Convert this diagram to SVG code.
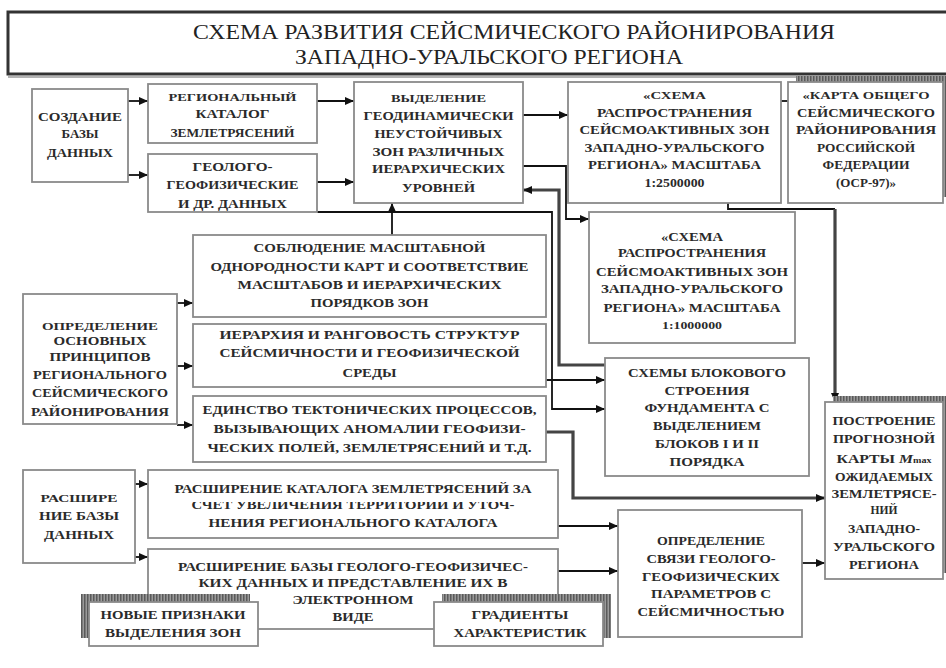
<svg xmlns="http://www.w3.org/2000/svg" width="946" height="668" viewBox="0 0 946 668" font-family="Liberation Serif, DejaVu Serif, serif">
<style>
.bg{fill:#fff}
.box{fill:#fff;stroke:#8a8a8a;stroke-width:1.8}
.sh{fill:url(#hatch);stroke:none}
.t{font-weight:bold;font-size:12.5px;fill:#2a2a2a;text-anchor:middle}
.s{font-size:10px}
.ttl{font-size:21px;fill:#222;text-anchor:middle}
.c{fill:none;stroke:#111;stroke-width:1.8}
.k{fill:none;stroke:#444;stroke-width:3.2}
</style>
<defs>
<pattern id="hatch" width="3" height="3" patternUnits="userSpaceOnUse">
<rect width="3" height="3" fill="#9a9a9a"/>
<rect width="1.5" height="3" fill="#5a5a5a"/>
</pattern>
<marker id="ah" markerUnits="userSpaceOnUse" markerWidth="9" markerHeight="8" refX="9" refY="4" orient="auto">
<path d="M0,0 L9,4 L0,8 z" fill="#111"/>
</marker>
<clipPath id="clipL2"><rect x="148" y="502" width="410" height="12"/></clipPath>
</defs>
<rect class="bg" x="0" y="0" width="946" height="668"/>

<g id="title">
<rect x="8" y="12" width="945" height="62" fill="#fff" stroke="#333" stroke-width="3"/>
<line x1="8" y1="77" x2="946" y2="77" stroke="#9a9a9a" stroke-width="1.5"/>
<text class="ttl" x="514" y="39" textLength="642" lengthAdjust="spacingAndGlyphs" font-family="Liberation Serif, serif">СХЕМА РАЗВИТИЯ СЕЙСМИЧЕСКОГО РАЙОНИРОВАНИЯ</text>
<text class="ttl" x="489" y="64" textLength="388" lengthAdjust="spacingAndGlyphs" font-family="Liberation Serif, serif">ЗАПАДНО-УРАЛЬСКОГО РЕГИОНА</text>
</g>

<g id="connectors">
<path class="c" d="M128,101 H148" marker-end="url(#ah)"/>
<path class="c" d="M128,175 H148" marker-end="url(#ah)"/>
<path class="c" d="M317,101 H354" marker-end="url(#ah)"/>
<path class="c" d="M317,182 H354" marker-end="url(#ah)"/>
<path class="c" d="M317,212 H552 V409 H605" marker-end="url(#ah)"/>
<path class="k" d="M605,365 H559 V190 H523" marker-end="url(#ah)"/>
<path class="c" d="M523,115 H568" marker-end="url(#ah)"/>
<path class="c" d="M523,166 H566 V219 H589" marker-end="url(#ah)"/>
<path class="c" d="M781,101 H800" marker-end="url(#ah)"/>
<path class="c" d="M728,203 V209 H835"/>
<path class="k" d="M835,209 V402" marker-end="url(#ah)"/>
<path class="c" d="M392,235 V203" marker-end="url(#ah)"/>
<path class="c" d="M177,303 H193" marker-end="url(#ah)"/>
<path class="c" d="M177,366 H193" marker-end="url(#ah)"/>
<path class="c" d="M177,425 H193" marker-end="url(#ah)"/>
<path class="c" d="M546,380 H605" marker-end="url(#ah)"/>
<path class="k" d="M546,432 H573 V498 H825" marker-end="url(#ah)"/>
<path class="c" d="M135,484 H148" marker-end="url(#ah)"/>
<path class="c" d="M135,557 H148" marker-end="url(#ah)"/>
<path class="c" d="M558,526 H618" marker-end="url(#ah)"/>
<path class="c" d="M558,571 H618" marker-end="url(#ah)"/>
<path class="c" d="M802,563 H825" marker-end="url(#ah)"/>
</g>

<g id="n1">
<rect class="box" x="32" y="89" width="96" height="93"/>
<text class="t" x="80" y="120.5" textLength="84" lengthAdjust="spacingAndGlyphs">СОЗДАНИЕ</text>
<text class="t" x="80" y="137.5" textLength="37" lengthAdjust="spacingAndGlyphs">БАЗЫ</text>
<text class="t" x="80" y="156.5" textLength="66" lengthAdjust="spacingAndGlyphs">ДАННЫХ</text>
</g>

<g id="n2">
<rect class="box" x="148" y="84" width="169" height="59"/>
<text class="t s" x="232.5" y="100.5" textLength="128" lengthAdjust="spacingAndGlyphs">РЕГИОНАЛЬНЫЙ</text>
<text class="t" x="232.5" y="117.5" textLength="74" lengthAdjust="spacingAndGlyphs">КАТАЛОГ</text>
<text class="t" x="232.5" y="136.5" textLength="124" lengthAdjust="spacingAndGlyphs">ЗЕМЛЕТРЯСЕНИЙ</text>
</g>

<g id="n3">
<rect class="box" x="148" y="154" width="169" height="58"/>
<text class="t" x="232.5" y="170.5" textLength="80" lengthAdjust="spacingAndGlyphs">ГЕОЛОГО-</text>
<text class="t" x="232.5" y="188.5" textLength="132" lengthAdjust="spacingAndGlyphs">ГЕОФИЗИЧЕСКИЕ</text>
<text class="t" x="232.5" y="207.5" textLength="109" lengthAdjust="spacingAndGlyphs">И ДР. ДАННЫХ</text>
</g>

<g id="n4">
<rect class="box" x="354" y="82" width="169" height="121"/>
<text class="t s" x="438.5" y="101.5" textLength="95" lengthAdjust="spacingAndGlyphs">ВЫДЕЛЕНИЕ</text>
<text class="t" x="438.5" y="119.5" textLength="150" lengthAdjust="spacingAndGlyphs">ГЕОДИНАМИЧЕСКИ</text>
<text class="t" x="438.5" y="137.5" textLength="128" lengthAdjust="spacingAndGlyphs">НЕУСТОЙЧИВЫХ</text>
<text class="t" x="438.5" y="155.5" textLength="132" lengthAdjust="spacingAndGlyphs">ЗОН РАЗЛИЧНЫХ</text>
<text class="t" x="438.5" y="172.5" textLength="133" lengthAdjust="spacingAndGlyphs">ИЕРАРХИЧЕСКИХ</text>
<text class="t" x="438.5" y="191.5" textLength="73" lengthAdjust="spacingAndGlyphs">УРОВНЕЙ</text>
</g>

<g id="n5">
<rect class="box" x="568" y="82" width="213" height="121"/>
<text class="t s" x="674.5" y="98.5" textLength="63" lengthAdjust="spacingAndGlyphs">«СХЕМА</text>
<text class="t" x="674.5" y="116.5" textLength="155" lengthAdjust="spacingAndGlyphs">РАСПРОСТРАНЕНИЯ</text>
<text class="t" x="674.5" y="133.5" textLength="190" lengthAdjust="spacingAndGlyphs">СЕЙСМОАКТИВНЫХ ЗОН</text>
<text class="t" x="674.5" y="151.5" textLength="180" lengthAdjust="spacingAndGlyphs">ЗАПАДНО-УРАЛЬСКОГО</text>
<text class="t" x="674.5" y="168.5" textLength="173" lengthAdjust="spacingAndGlyphs">РЕГИОНА» МАСШТАБА</text>
<text class="t" x="674.5" y="186.5" textLength="60" lengthAdjust="spacingAndGlyphs">1:2500000</text>
</g>

<g id="n6">
<rect class="sh" x="796" y="76" width="155" height="121"/>
<rect class="box" x="788" y="82" width="155" height="121"/>
<text class="t s" x="866" y="98.5" textLength="127" lengthAdjust="spacingAndGlyphs">«КАРТА ОБЩЕГО</text>
<text class="t" x="866" y="116.5" textLength="138" lengthAdjust="spacingAndGlyphs">СЕЙСМИЧЕСКОГО</text>
<text class="t" x="866" y="133.5" textLength="140" lengthAdjust="spacingAndGlyphs">РАЙОНИРОВАНИЯ</text>
<text class="t" x="866" y="151.5" textLength="98" lengthAdjust="spacingAndGlyphs">РОССИЙСКОЙ</text>
<text class="t" x="866" y="168.5" textLength="87" lengthAdjust="spacingAndGlyphs">ФЕДЕРАЦИИ</text>
<text class="t" x="866" y="186.5" textLength="60" lengthAdjust="spacingAndGlyphs">(ОСР-97)»</text>
</g>

<g id="n7">
<rect class="box" x="589" y="212" width="206" height="131"/>
<text class="t" x="692" y="241.3" textLength="62" lengthAdjust="spacingAndGlyphs">«СХЕМА</text>
<text class="t" x="692" y="257.3" textLength="148" lengthAdjust="spacingAndGlyphs">РАСПРОСТРАНЕНИЯ</text>
<text class="t" x="692" y="276.3" textLength="192" lengthAdjust="spacingAndGlyphs">СЕЙСМОАКТИВНЫХ ЗОН</text>
<text class="t" x="692" y="293.3" textLength="182" lengthAdjust="spacingAndGlyphs">ЗАПАДНО-УРАЛЬСКОГО</text>
<text class="t" x="692" y="312.3" textLength="177" lengthAdjust="spacingAndGlyphs">РЕГИОНА» МАСШТАБА</text>
<text class="t s" x="692" y="328.5" textLength="60" lengthAdjust="spacingAndGlyphs">1:1000000</text>
</g>

<g id="n8">
<rect class="box" x="605" y="358" width="204" height="118"/>
<text class="t" x="707" y="377.3" textLength="158" lengthAdjust="spacingAndGlyphs">СХЕМЫ БЛОКОВОГО</text>
<text class="t" x="707" y="395.3" textLength="85" lengthAdjust="spacingAndGlyphs">СТРОЕНИЯ</text>
<text class="t" x="707" y="412.3" textLength="125" lengthAdjust="spacingAndGlyphs">ФУНДАМЕНТА С</text>
<text class="t" x="707" y="430.3" textLength="108" lengthAdjust="spacingAndGlyphs">ВЫДЕЛЕНИЕМ</text>
<text class="t" x="707" y="448.3" textLength="104" lengthAdjust="spacingAndGlyphs">БЛОКОВ I И II</text>
<text class="t" x="707" y="466.3" textLength="75" lengthAdjust="spacingAndGlyphs">ПОРЯДКА</text>
</g>

<g id="n9">
<rect class="sh" x="833" y="396" width="118" height="177"/>
<rect class="box" x="825" y="402" width="118" height="177"/>
<text class="t" x="884" y="425.3" textLength="103" lengthAdjust="spacingAndGlyphs">ПОСТРОЕНИЕ</text>
<text class="t" x="884" y="443.3" textLength="102" lengthAdjust="spacingAndGlyphs">ПРОГНОЗНОЙ</text>
<text class="t" x="884" y="463.3" textLength="95" lengthAdjust="spacingAndGlyphs">КАРТЫ <tspan font-style="italic">M</tspan><tspan font-size="8">max</tspan></text>
<text class="t" x="884" y="481.3" textLength="98" lengthAdjust="spacingAndGlyphs">ОЖИДАЕМЫХ</text>
<text class="t" x="884" y="498.3" textLength="105" lengthAdjust="spacingAndGlyphs">ЗЕМЛЕТРЯСЕ-</text>
<text class="t" x="884" y="514.3" textLength="27" lengthAdjust="spacingAndGlyphs">НИЙ</text>
<text class="t" x="884" y="533.3" textLength="72" lengthAdjust="spacingAndGlyphs">ЗАПАДНО-</text>
<text class="t" x="884" y="551.3" textLength="102" lengthAdjust="spacingAndGlyphs">УРАЛЬСКОГО</text>
<text class="t" x="884" y="569.3" textLength="70" lengthAdjust="spacingAndGlyphs">РЕГИОНА</text>
</g>

<g id="n10">
<rect class="box" x="193" y="235" width="353" height="82"/>
<text class="t" x="369.5" y="252.3" textLength="232" lengthAdjust="spacingAndGlyphs">СОБЛЮДЕНИЕ  МАСШТАБНОЙ</text>
<text class="t" x="369.5" y="271.3" textLength="318" lengthAdjust="spacingAndGlyphs">ОДНОРОДНОСТИ КАРТ И СООТВЕТСТВИЕ</text>
<text class="t" x="369.5" y="289.3" textLength="264" lengthAdjust="spacingAndGlyphs">МАСШТАБОВ  И  ИЕРАРХИЧЕСКИХ</text>
<text class="t" x="369.5" y="307.3" textLength="118" lengthAdjust="spacingAndGlyphs">ПОРЯДКОВ ЗОН</text>
</g>

<g id="n11">
<rect class="box" x="193" y="324" width="353" height="63"/>
<text class="t" x="369.5" y="339.3" textLength="300" lengthAdjust="spacingAndGlyphs">ИЕРАРХИЯ  И  РАНГОВОСТЬ  СТРУКТУР</text>
<text class="t" x="369.5" y="357.3" textLength="300" lengthAdjust="spacingAndGlyphs">СЕЙСМИЧНОСТИ  И  ГЕОФИЗИЧЕСКОЙ</text>
<text class="t" x="369.5" y="377.3" textLength="54" lengthAdjust="spacingAndGlyphs">СРЕДЫ</text>
</g>

<g id="n12">
<rect class="box" x="193" y="396" width="353" height="66"/>
<text class="t" x="369.5" y="414.3" textLength="334" lengthAdjust="spacingAndGlyphs">ЕДИНСТВО  ТЕКТОНИЧЕСКИХ  ПРОЦЕССОВ,</text>
<text class="t" x="369.5" y="433.3" textLength="312" lengthAdjust="spacingAndGlyphs">ВЫЗЫВАЮЩИХ  АНОМАЛИИ  ГЕОФИЗИ-</text>
<text class="t" x="369.5" y="452.3" textLength="324" lengthAdjust="spacingAndGlyphs">ЧЕСКИХ ПОЛЕЙ,  ЗЕМЛЕТРЯСЕНИЙ  И  Т.Д.</text>
</g>

<g id="n13">
<rect class="box" x="23" y="294" width="154" height="130"/>
<text class="t s" x="100" y="329.5" textLength="116" lengthAdjust="spacingAndGlyphs">ОПРЕДЕЛЕНИЕ</text>
<text class="t" x="100" y="345.3" textLength="93" lengthAdjust="spacingAndGlyphs">ОСНОВНЫХ</text>
<text class="t" x="100" y="361.3" textLength="101" lengthAdjust="spacingAndGlyphs">ПРИНЦИПОВ</text>
<text class="t" x="100" y="379.3" textLength="134" lengthAdjust="spacingAndGlyphs">РЕГИОНАЛЬНОГО</text>
<text class="t" x="100" y="397.3" textLength="136" lengthAdjust="spacingAndGlyphs">СЕЙСМИЧЕСКОГО</text>
<text class="t" x="100" y="416.3" textLength="138" lengthAdjust="spacingAndGlyphs">РАЙОНИРОВАНИЯ</text>
</g>

<g id="n14">
<rect class="box" x="23" y="470" width="112" height="93"/>
<text class="t s" x="79" y="501.5" textLength="77" lengthAdjust="spacingAndGlyphs">РАСШИРЕ</text>
<text class="t" x="79" y="520.3" textLength="80" lengthAdjust="spacingAndGlyphs">НИЕ БАЗЫ</text>
<text class="t" x="79" y="539.3" textLength="70" lengthAdjust="spacingAndGlyphs">ДАННЫХ</text>
</g>

<g id="n15">
<rect class="box" x="148" y="470" width="410" height="68"/>
<text class="t" x="353" y="493.3" textLength="357" lengthAdjust="spacingAndGlyphs">РАСШИРЕНИЕ КАТАЛОГА ЗЕМЛЕТРЯСЕНИЙ ЗА</text>
<text class="t" x="353" y="509.3" textLength="323" lengthAdjust="spacingAndGlyphs" clip-path="url(#clipL2)">СЧЕТ УВЕЛИЧЕНИЯ ТЕРРИТОРИИ И УТОЧ-</text>
<text class="t" x="353" y="527.3" textLength="289" lengthAdjust="spacingAndGlyphs">НЕНИЯ  РЕГИОНАЛЬНОГО  КАТАЛОГА</text>
</g>

<g id="n16">
<rect class="box" x="148" y="549" width="410" height="80"/>
<text class="t" x="353" y="571.3" textLength="350" lengthAdjust="spacingAndGlyphs">РАСШИРЕНИЕ  БАЗЫ  ГЕОЛОГО-ГЕОФИЗИЧЕС-</text>
<text class="t" x="353" y="587.3" textLength="309" lengthAdjust="spacingAndGlyphs">КИХ ДАННЫХ  И ПРЕДСТАВЛЕНИЕ ИХ В</text>
<text class="t" x="353" y="604.3" textLength="121" lengthAdjust="spacingAndGlyphs">ЭЛЕКТРОННОМ</text>
<text class="t" x="353" y="621.3" textLength="41" lengthAdjust="spacingAndGlyphs">ВИДЕ</text>
</g>

<g id="n17">
<rect class="sh" x="81" y="594" width="169" height="44"/>
<rect class="box" x="89" y="602" width="169" height="44"/>
<text class="t" x="173" y="619.3" textLength="145" lengthAdjust="spacingAndGlyphs">НОВЫЕ ПРИЗНАКИ</text>
<text class="t" x="173" y="637.3" textLength="136" lengthAdjust="spacingAndGlyphs">ВЫДЕЛЕНИЯ ЗОН</text>
</g>

<g id="n18">
<rect class="sh" x="442" y="594" width="169" height="44"/>
<rect class="box" x="434" y="602" width="169" height="44"/>
<text class="t" x="520" y="619.3" textLength="97" lengthAdjust="spacingAndGlyphs">ГРАДИЕНТЫ</text>
<text class="t" x="520" y="637.3" textLength="133" lengthAdjust="spacingAndGlyphs">ХАРАКТЕРИСТИК</text>
</g>

<g id="n19">
<rect class="box" x="618" y="510" width="184" height="127"/>
<text class="t" x="711" y="545.3" textLength="108" lengthAdjust="spacingAndGlyphs">ОПРЕДЕЛЕНИЕ</text>
<text class="t" x="711" y="563.3" textLength="129" lengthAdjust="spacingAndGlyphs">СВЯЗИ ГЕОЛОГО-</text>
<text class="t" x="711" y="581.3" textLength="138" lengthAdjust="spacingAndGlyphs">ГЕОФИЗИЧЕСКИХ</text>
<text class="t" x="711" y="598.3" textLength="120" lengthAdjust="spacingAndGlyphs">ПАРАМЕТРОВ С</text>
<text class="t" x="711" y="616.3" textLength="147" lengthAdjust="spacingAndGlyphs">СЕЙСМИЧНОСТЬЮ</text>
</g>
</svg>
